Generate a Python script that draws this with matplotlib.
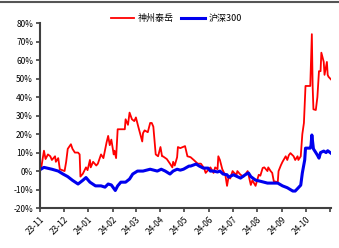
import matplotlib
matplotlib.use("Agg")
import matplotlib.pyplot as plt
import matplotlib.dates as mdates
import pandas as pd

plt.rcParams['font.family'] = ['Noto Sans CJK SC', 'DejaVu Sans']

# 神州泰岳 cumulative return (%)
red_dates = ["2023-11-02", "2023-11-03", "2023-11-06", "2023-11-08", "2023-11-11", "2023-11-14",
             "2023-11-16", "2023-11-20", "2023-11-21", "2023-11-24", "2023-11-26", "2023-11-29",
             "2023-12-02", "2023-12-04", "2023-12-06", "2023-12-10", "2023-12-12", "2023-12-15",
             "2023-12-19", "2023-12-21", "2023-12-22", "2023-12-25", "2023-12-29", "2023-12-31",
             "2024-01-03", "2024-01-04", "2024-01-07", "2024-01-11", "2024-01-13", "2024-01-17",
             "2024-01-20", "2024-01-24", "2024-01-26", "2024-01-28", "2024-01-30", "2024-02-02",
             "2024-02-03", "2024-02-05", "2024-02-07", "2024-02-16", "2024-02-17", "2024-02-20",
             "2024-02-22", "2024-02-25", "2024-02-28", "2024-03-01", "2024-03-04", "2024-03-09",
             "2024-03-10", "2024-03-12", "2024-03-16", "2024-03-19", "2024-03-21", "2024-03-23",
             "2024-03-26", "2024-03-29", "2024-04-01", "2024-04-03", "2024-04-04", "2024-04-09",
             "2024-04-13", "2024-04-16", "2024-04-17", "2024-04-19", "2024-04-22", "2024-04-23",
             "2024-04-26", "2024-05-02", "2024-05-05", "2024-05-09", "2024-05-13", "2024-05-18",
             "2024-05-22", "2024-05-26", "2024-05-28", "2024-05-30", "2024-06-01", "2024-06-03",
             "2024-06-07", "2024-06-09", "2024-06-12", "2024-06-13", "2024-06-15", "2024-06-18",
             "2024-06-22", "2024-06-24", "2024-06-26", "2024-06-28", "2024-07-01", "2024-07-03",
             "2024-07-06", "2024-07-07", "2024-07-09", "2024-07-11", "2024-07-15", "2024-07-20",
             "2024-07-24", "2024-07-26", "2024-07-30", "2024-08-01", "2024-08-03", "2024-08-05",
             "2024-08-08", "2024-08-10", "2024-08-14", "2024-08-15", "2024-08-18", "2024-08-20",
             "2024-08-22", "2024-08-27", "2024-08-28", "2024-08-31", "2024-09-02", "2024-09-06",
             "2024-09-08", "2024-09-10", "2024-09-12", "2024-09-16", "2024-09-18", "2024-09-21",
             "2024-09-22", "2024-09-25", "2024-09-27", "2024-09-29", "2024-10-01", "2024-10-07",
             "2024-10-09", "2024-10-10", "2024-10-11", "2024-10-14", "2024-10-16", "2024-10-18",
             "2024-10-20", "2024-10-21", "2024-10-24", "2024-10-25", "2024-10-28", "2024-10-29",
             "2024-10-30", "2024-11-02"]
red_values = [1, 3, 11, 6.5, 9, 8,
              6, 8, 5, 7, 1, 0.5,
              0, 5, 12, 14.5, 12, 10,
              10, 9, -3, -1.5, 2, 0.5,
              6, 2, 5, 3, 4, 9,
              7, 15.5, 19, 14, 17, 9,
              11, 7, 22.6, 22.6, 28, 25,
              31.6, 28, 27, 29, 24, 16,
              20.5, 22, 21, 26, 26, 24,
              9, 8, 13, 8, 8, 6.5,
              4, 2, 5, 3, 7.5, 13,
              12.4, 13.5, 8, 7.5, 6, 4,
              4, 1.6, -1, 0, 1, 2,
              -1, 2, 1, 8, 6, 1,
              -2.5, -8, -3, -4, 0, -1,
              -2, 0, -1, -2, -3, 0,
              -7.5, -5, -8, -5, -2, -2.5,
              1.7, 2, 0, 2, 0, -1,
              -5.5, -6, 0, 3.2, 5, 8,
              6, 8.6, 9.7, 8, 6, 8,
              6, 8, 20, 26, 46, 46,
              74, 46, 33.4, 33, 40, 54,
              54, 64, 59, 52, 59, 52,
              51, 49.6]

# 沪深300 cumulative return (%)
blue_dates = ["2023-11-02", "2023-11-06", "2023-11-11", "2023-11-16", "2023-11-24", "2023-11-30",
              "2023-12-06", "2023-12-12", "2023-12-19", "2023-12-25", "2023-12-29", "2024-01-03",
              "2024-01-10", "2024-01-17", "2024-01-22", "2024-01-26", "2024-01-30", "2024-02-04",
              "2024-02-07", "2024-02-11", "2024-02-17", "2024-02-22", "2024-02-26", "2024-03-03",
              "2024-03-10", "2024-03-19", "2024-03-28", "2024-04-02", "2024-04-07", "2024-04-13",
              "2024-04-17", "2024-04-22", "2024-04-26", "2024-04-30", "2024-05-07", "2024-05-09",
              "2024-05-16", "2024-05-20", "2024-05-25", "2024-05-31", "2024-06-03", "2024-06-07",
              "2024-06-12", "2024-06-15", "2024-06-19", "2024-06-24", "2024-06-26", "2024-07-02",
              "2024-07-11", "2024-07-17", "2024-07-21", "2024-07-24", "2024-07-30", "2024-08-05",
              "2024-08-14", "2024-08-22", "2024-08-27", "2024-09-02", "2024-09-08", "2024-09-15",
              "2024-09-18", "2024-09-22", "2024-09-25", "2024-09-27", "2024-09-30", "2024-10-01",
              "2024-10-07", "2024-10-08", "2024-10-09", "2024-10-11", "2024-10-14", "2024-10-16",
              "2024-10-18", "2024-10-20", "2024-10-24", "2024-10-27", "2024-10-29", "2024-11-02"]
blue_values = [1, 2, 1.5, 1, 0, -1.6,
               -3, -5, -7, -5, -3.5, -6,
               -8, -8, -8.7, -7, -7.5, -10.5,
               -8, -6, -6, -4.3, -1.6, 0,
               0, 1, 0, 1, 0, -1.6,
               0, 1, 0.5, 1, 2.7, 2.7,
               3.8, 2.7, 1.6, 1.6, 0, 0,
               -0.5, 0, -1.6, -2, -3.3, -2,
               -3.8, -2, -1, -3, -4.9, -5.5,
               -6.5, -6.5, -6.5, -8, -9, -10.8,
               -10.8, -9, -7.6, -1, 6, 12.4,
               12.4, 14, 19.5, 12, 10, 8.6,
               7, 10, 10.8, 10, 11, 9.7]

y_ticks = [-20, -10, 0, 10, 20, 30, 40, 50, 60, 70, 80]

fig = plt.figure(figsize=(3.39, 2.48), dpi=100)
ax = fig.add_axes([0.118, 0.161, 0.858, 0.746])

ax.plot(pd.to_datetime(red_dates), red_values, color="#ff0000", lw=1.3, label="神州泰岳")
ax.plot(pd.to_datetime(blue_dates), blue_values, color="#0000ee", lw=2.2, label="沪深300")

ax.set_ylim(-20, 80)
ax.set_yticks(y_ticks)
ax.set_yticklabels([f"{t}%" for t in y_ticks])
ax.set_xlim(pd.Timestamp("2023-11-01"), pd.Timestamp("2024-11-02"))

month_ticks = pd.date_range("2023-11-01", "2024-11-01", freq="MS")
ax.set_xticks(month_ticks)
ax.set_xticklabels([d.strftime("%y-%m") for d in month_ticks[:-1]] + [""],
                   rotation=45, ha="right", rotation_mode="anchor")

for s in ["top", "right"]:
    ax.spines[s].set_visible(False)
for s in ["left", "bottom"]:
    ax.spines[s].set_color("#404040")
    ax.spines[s].set_linewidth(1.5)
ax.tick_params(direction="out", length=3, width=1.2, color="#404040", labelsize=6, pad=2)

fig.legend(loc="center", bbox_to_anchor=(0.52, 0.925), ncol=2, frameon=False,
           fontsize=6.5, handlelength=2.6, columnspacing=0.8, handletextpad=0.4)

# grey border line along the top
fig.add_artist(plt.Line2D([0, 1], [0.99, 0.99], transform=fig.transFigure,
                          color="#555555", lw=1.5))

fig.savefig("out.png", dpi=100)
